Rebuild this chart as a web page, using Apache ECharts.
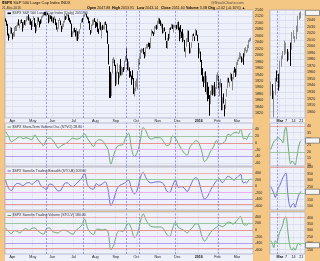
<!DOCTYPE html>
<html>
<head>
<meta charset="utf-8">
<script src="https://cdn.jsdelivr.net/npm/echarts@6.0.0/dist/echarts.min.js"></script>
<style>
html,body{margin:0;padding:0;background:#f4c784;overflow:hidden}
#chart{width:320px;height:261px}
</style>
</head>
<body>
<div id="chart"></div>
<script>
// ---------------- data ----------------
const tradingDays = [
  ['2015-03',[23,24,25,26,27,30,31]],
  ['2015-04',[1,2,6,7,8,9,10,13,14,15,16,17,20,21,22,23,24,27,28,29,30]],
  ['2015-05',[1,4,5,6,7,8,11,12,13,14,15,18,19,20,21,22,26,27,28,29]],
  ['2015-06',[1,2,3,4,5,8,9,10,11,12,15,16,17,18,19,22,23,24,25,26,29,30]],
  ['2015-07',[1,2,6,7,8,9,10,13,14,15,16,17,20,21,22,23,24,27,28,29,30,31]],
  ['2015-08',[3,4,5,6,7,10,11,12,13,14,17,18,19,20,21,24,25,26,27,28,31]],
  ['2015-09',[1,2,3,4,8,9,10,11,14,15,16,17,18,21,22,23,24,25,28,29,30]],
  ['2015-10',[1,2,5,6,7,8,9,12,13,14,15,16,19,20,21,22,23,26,27,28,29,30]],
  ['2015-11',[2,3,4,5,6,9,10,11,12,13,16,17,18,19,20,23,24,25,27,30]],
  ['2015-12',[1,2,3,4,7,8,9,10,11,14,15,16,17,18,21,22,23,24,28,29,30,31]],
  ['2016-01',[4,5,6,7,8,11,12,13,14,15,19,20,21,22,25,26,27,28,29]],
  ['2016-02',[1,2,3,4,5,8,9,10,11,12,16,17,18,19,22,23,24,25,26,29]],
  ['2016-03',[1,2,3,4,7,8,9,10,11,14,15,16,17,18,21]]
];

const opens = [
  2107,2104,2092,2060,2056,2065,2084,
  2067,2061,2064,2081,2077,2081,2091,2102,2092,2097,2105,2102,2084,2102,2098,2107,2113,2120,2108,2112,2105,
  2088,2111,2113,2091,2080,2093,2116,2103,2100,2100,2123,2122,2129,2128,2126,2130,2125,2105,2123,2121,
  2108,2110,2111,2112,2096,2093,2079,2082,2106,2107,2091,2084,2097,2102,2121,2112,2123,2124,2109,2102,2098,2061,
  2068,2078,2073,2069,2074,2049,2066,2081,2100,2109,2112,2124,2127,2126,2118,2114,2103,2078,2070,2093,2107,2111,
  2104,2097,2096,2100,2082,2081,2102,2081,2086,2083,2089,2102,2095,2076,2034,1966,1898,1873,1943,1986,1986,
  1970,1917,1951,1947,1928,1972,1941,1951,1963,1955,1979,1995,1989,1961,1962,1943,1935,1936,1929,1882,1888,
  1919,1921,1954,1983,1984,1994,2013,2015,2015,2003,1996,2025,2032,2033,2033,2022,2059,2075,2069,2066,2088,2090,
  2081,2102,2110,2101,2098,2097,2077,2084,2072,2044,2023,2054,2051,2084,2083,2089,2084,2089,2089,2091,
  2083,2101,2081,2051,2091,2073,2061,2048,2047,2013,2026,2047,2074,2040,2011,2024,2043,2064,2058,2060,2077,2060,
  2038,2014,2011,1985,1946,1927,1928,1941,1892,1916,1886,1876,1861,1877,1906,1878,1903,1886,1895,
  1936,1935,1907,1911,1913,1873,1848,1858,1840,1833,1871,1898,1927,1916,1924,1942,1917,1931,1954,1947,
  1937,1976,1986,1994,1997,1996,1981,1991,1995,2018,2015,2015,2026,2041,2047.88
];
const closes = [
  2104,2092,2061,2056,2061,2086,2068,
  2060,2067,2081,2076,2082,2091,2102,2092,2096,2107,2105,2081,2100,2097,2108,2113,2118,2109,2115,2107,2086,
  2108,2114,2089,2080,2088,2116,2105,2099,2098,2121,2123,2129,2128,2126,2131,2126,2104,2123,2121,2107,
  2112,2110,2114,2096,2093,2079,2080,2105,2109,2094,2084,2096,2100,2121,2110,2123,2124,2109,2102,2101,2058,2063,
  2077,2077,2069,2081,2047,2051,2077,2100,2109,2107,2124,2127,2128,2119,2114,2102,2080,2068,2093,2109,2109,2104,
  2098,2093,2100,2084,2078,2104,2084,2086,2083,2092,2102,2097,2080,2036,1971,1893,1868,1941,1988,1989,1972,
  1914,1949,1951,1921,1969,1942,1952,1961,1953,1978,1995,1990,1958,1967,1943,1939,1932,1931,1882,1884,1920,
  1924,1951,1987,1980,1996,2013,2015,2017,2004,1994,2024,2033,2034,2031,2019,2053,2075,2071,2066,2090,2089,2079,
  2104,2110,2102,2100,2099,2079,2082,2075,2046,2023,2053,2050,2084,2081,2089,2087,2089,2089,2090,2080,
  2103,2080,2050,2092,2077,2064,2048,2052,2012,2022,2043,2073,2042,2006,2021,2039,2064,2061,2057,2078,2063,2044,
  2013,2017,1990,1943,1922,1924,1939,1890,1922,1880,1881,1859,1869,1907,1877,1904,1883,1893,1940,
  1939,1903,1913,1915,1880,1853,1852,1852,1829,1865,1896,1927,1918,1918,1946,1921,1930,1952,1948,1932,
  1978,1986,1993,2000,2002,1979,1989,1990,2022,2020,2016,2027,2041,2049.58,2051.60
];
const lows = [
  2104,2091,2061,2045,2053,2065,2067,
  2049,2057,2057,2076,2075,2075,2089,2092,2083,2097,2100,2073,2084,2094,2091,2104,2110,2107,2094,2094,2078,
  2088,2109,2088,2068,2074,2093,2104,2086,2096,2100,2116,2120,2124,2123,2122,2125,2099,2103,2112,2104,
  2101,2099,2109,2093,2086,2079,2072,2082,2106,2093,2072,2080,2088,2101,2109,2112,2120,2108,2102,2097,2056,2056,
  2067,2071,2058,2045,2044,2049,2066,2081,2100,2102,2112,2119,2124,2117,2111,2099,2078,2064,2069,2091,2094,2103,
  2084,2088,2096,2072,2066,2081,2077,2052,2078,2080,2079,2094,2070,2035,1971,1867,1867,1873,1943,1975,1966,
  1904,1909,1944,1909,1928,1937,1937,1939,1948,1954,1979,1986,1953,1951,1930,1933,1908,1925,1879,1872,1888,
  1900,1893,1954,1971,1976,1988,2007,2011,2003,1990,1996,2021,2020,2026,2018,2022,2059,2067,2059,2066,2082,2079,
  2081,2097,2097,2091,2083,2067,2069,2074,2046,2022,2019,2045,2051,2078,2083,2081,2070,2086,2084,2080,
  2083,2077,2043,2051,2071,2053,2040,2044,2011,1993,2026,2040,2041,2005,2006,2023,2043,2059,2044,2060,2061,2043,
  1990,2005,1979,1938,1918,1901,1914,1886,1878,1857,1864,1812,1848,1877,1875,1878,1872,1873,1895,
  1921,1897,1872,1900,1872,1829,1829,1850,1810,1833,1871,1898,1915,1902,1924,1919,1891,1925,1946,1932,
  1937,1969,1981,1987,1989,1977,1979,1970,1995,2012,2006,2011,2022,2041,2043.14
];
const highs = [
  2114,2107,2097,2067,2063,2088,2085,
  2068,2072,2087,2089,2087,2093,2102,2111,2098,2109,2111,2102,2104,2109,2109,2120,2121,2126,2117,2113,2105,
  2109,2121,2115,2099,2093,2118,2117,2106,2111,2121,2124,2131,2134,2135,2132,2131,2126,2126,2123,2122,
  2118,2117,2122,2113,2101,2094,2086,2109,2115,2107,2091,2098,2106,2126,2121,2129,2127,2126,2116,2108,2098,2074,
  2083,2085,2078,2084,2074,2074,2081,2100,2111,2115,2124,2127,2132,2128,2120,2117,2106,2078,2095,2110,2111,2115,
  2105,2103,2113,2100,2082,2106,2102,2089,2094,2092,2103,2104,2096,2076,2034,1966,1948,1943,1989,1994,1986,
  1970,1949,1975,1947,1970,1988,1965,1961,1963,1983,1997,2021,1989,1980,1962,1950,1937,1953,1929,1899,1920,
  1927,1951,1989,1987,1999,2017,2021,2019,2022,2010,2024,2034,2035,2039,2038,2055,2080,2075,2071,2090,2092,2094,
  2106,2116,2114,2108,2101,2097,2084,2086,2072,2044,2054,2066,2084,2086,2097,2095,2094,2094,2094,2094,
  2103,2104,2086,2093,2093,2073,2081,2067,2047,2023,2053,2077,2076,2040,2023,2040,2065,2067,2058,2082,2077,2063,
  2038,2022,2011,1985,1960,1934,1947,1950,1935,1916,1902,1876,1889,1908,1906,1906,1917,1902,1940,
  1947,1935,1918,1927,1913,1873,1869,1881,1846,1864,1896,1930,1930,1918,1946,1942,1932,1952,1963,1958,
  1978,1986,1993,2009,2006,1996,1992,2006,2022,2025,2016,2032,2047,2052,2053.91
];
const lastVolume = '3.3B';

// oscillators: read every 3rd trading day up to 17-Feb-2016, then daily from 22-Feb-2016
const oscStep = 3;
const recentFrom = '2016-02-22';
const stvoEarly = [33,20,3,8,14,18,12,15,12,9,23,11,0,-8,10,14,9,-3,-15,-9,-4,0,8,14,11,12,17,26,12,0,-11,4,9,7,-5,-20,-62,-35,-12,-7,-6,15,28,-15,-40,-28,5,45,34,14,11,15,15,14,3,-8,-5,20,14,-2,-17,-30,-36,-12,-2,6,0,-25,-55,-45,-25,-12,6,-3,-2,5,25];
const stvoRecent = [22,25,28,29,30,31,30,29,27,36,39,30,18,11,13,12,10,15,22,27,28.8];
const stobEarly = [180,-60,-140,0,80,60,10,80,110,50,120,180,20,-50,-110,60,40,-60,-150,-120,60,100,30,-20,60,140,240,380,40,-70,-100,70,20,60,130,-110,-600,-400,-100,20,60,110,180,-80,-240,-120,250,420,250,120,100,120,130,120,60,-150,-200,0,180,-40,-20,-60,-170,-20,180,260,150,-200,-400,-320,-130,20,160,220,100,200,300];
const stobRecent = [250,225,200,165,200,240,260,290,320,340,355,220,120,90,110,120,90,130,170,200,209];
const stovEarly = [60,-40,-110,-20,-40,-90,0,40,-10,50,60,-20,-90,-130,40,60,-40,-80,-90,-20,-10,-30,-90,-130,-20,50,140,330,60,-80,-140,20,20,0,20,-60,-600,-450,-120,-20,-50,80,200,40,-230,-130,230,490,300,160,100,90,90,90,30,-130,-200,30,230,80,30,-20,-90,0,90,190,150,-180,-340,-220,-80,20,80,140,100,150,240];
const stovRecent = [220,200,165,220,205,255,290,315,350,400,405,320,215,160,145,165,145,170,200,190,184];

const eventDays = ['2015-05-21','2015-07-16','2015-09-17','2015-10-06','2015-11-27','2016-02-02'];
const miniEventDays = ['2016-02-26'];
const stvoLevels = [[40,'#f2a2a2'],[20,'#8cc08c'],[0,'#ee8080'],[-20,'#eea0ee'],[-40,'#a88cf0']];
const swenLevels = [[400,'#f2a2a2'],[200,'#8cc08c'],[0,'#ee8080'],[-200,'#eea0ee'],[-400,'#a88cf0'],[-550,'#ee8080']];
const monthNames = ['Jan','Feb','Mar','Apr','May','Jun','Jul','Aug','Sep','Oct','Nov','Dec'];
const miniTicks = ['2016-03-01','2016-03-07','2016-03-14','2016-03-21'];

// ---------------- build ----------------
const dates = [];
tradingDays.forEach(([m, ds]) => ds.forEach(d => dates.push(m + '-' + String(d).padStart(2, '0'))));
const cats = dates.concat(['~1', '~2']);
const L = dates.length - 1;
const recentStart = dates.indexOf(recentFrom);
const miniCats = dates.slice(recentStart).concat(['~m1', '~m2']);
const candles = dates.map((d, i) => [opens[i], closes[i], lows[i], highs[i]]);

function buildOsc(early, recent) {
  const arr = new Array(cats.length).fill(null);
  early.forEach((v, k) => { arr[k * oscStep] = v; });
  recent.forEach((v, k) => { arr[recentStart + k] = v; });
  return arr;
}
const isMonthStart = (i) => i > 0 && i < dates.length && dates[i].slice(0, 7) !== dates[i - 1].slice(0, 7);

const FONT = 'Liberation Sans, Arial, sans-serif';
const FS = 3.7;
const gridDefs = [
  {left: 5, top: 10, width: 248, height: 108},
  {left: 5, top: 123, width: 248, height: 43},
  {left: 5, top: 167, width: 248, height: 43},
  {left: 5, top: 212, width: 248, height: 42},
  {left: 270, top: 10, width: 35, height: 108},
  {left: 270, top: 123, width: 35, height: 43},
  {left: 270, top: 167, width: 35, height: 43},
  {left: 270, top: 212, width: 35, height: 42}
];

function mainX(gi, showLabel) {
  return {
    type: 'category', gridIndex: gi, data: cats, boundaryGap: true,
    axisLine: {show: false}, axisTick: {show: false},
    axisLabel: {
      show: showLabel, interval: (i) => isMonthStart(i), margin: 1.2,
      fontSize: FS, color: '#222', fontFamily: FONT,
      formatter: (v) => { const m = +v.slice(5, 7); return m === 1 ? '{b|' + v.slice(0, 4) + '}' : monthNames[m - 1]; },
      rich: {b: {fontWeight: 'bold', fontSize: FS, color: '#111', fontFamily: FONT}}
    },
    splitLine: {show: true, interval: (i) => isMonthStart(i), lineStyle: {color: '#c9cde2', width: 0.6, type: [1, 1]}}
  };
}
function miniX(gi, showLabel) {
  return {
    type: 'category', gridIndex: gi, data: miniCats, boundaryGap: true,
    axisLine: {show: false}, axisTick: {show: false},
    axisLabel: {
      show: showLabel, interval: (i, v) => miniTicks.includes(v), margin: 1.2,
      fontSize: FS, color: '#222', fontFamily: FONT,
      formatter: (v) => v === miniTicks[0] ? '{b|Mar}' : String(+v.slice(8)),
      rich: {b: {fontWeight: 'bold', fontSize: FS, color: '#111', fontFamily: FONT}}
    },
    splitLine: {show: true, interval: (i, v) => miniTicks.includes(v), lineStyle: {color: '#c9cde2', width: 0.6, type: [1, 1]}}
  };
}
function yAx(gi, min, max, step, showMax) {
  return {
    type: 'value', gridIndex: gi, position: 'right', min, max, minInterval: step, maxInterval: step,
    axisLine: {show: false}, axisTick: {show: false},
    axisLabel: {fontSize: FS, color: '#222', margin: 2, fontFamily: FONT, showMinLabel: false, showMaxLabel: !!showMax,
      formatter: (v) => String(v)},
    splitLine: {show: true, lineStyle: {color: '#d2d6e8', width: 0.6}}
  };
}
function levelLines(levels, lo, hi) {
  return levels.filter(l => l[0] >= lo && l[0] <= hi)
    .map(([v, c]) => ({yAxis: v, lineStyle: {color: c, width: 0.8, type: 'solid'}}));
}
function eventLines(days) {
  return days.map(d => ({xAxis: d, lineStyle: {color: '#6e6ef0', width: 0.7, type: [2, 1.5]}}));
}
function mk(data) {
  return {silent: true, symbol: ['none', 'none'], label: {show: false}, animation: false, data};
}
const candleStyle = {color: '#8a8a8a', color0: '#000000', borderColor: '#8a8a8a', borderColor0: '#000000', borderWidth: 1};
function oscSeries(xi, data, color, markData) {
  return {type: 'line', xAxisIndex: xi, yAxisIndex: xi, data, connectNulls: true, smooth: 0.35,
    symbol: 'none', lineStyle: {color, width: 0.8}, markLine: mk(markData), z: 3};
}

const yRanges = [[1805, 2140, 20, true], [-68, 58, 20], [-738, 585, 200], [-730, 545, 200],
                 [1890, 2056, 10], [9.2, 42.3, 5], [69, 400, 50, true], [115, 445, 50]];

const option = {
  animation: false,
  backgroundColor: '#f4c784',
  grid: gridDefs.map(g => Object.assign({show: true, backgroundColor: '#eef0fa', borderColor: '#9c9cb2', borderWidth: 0.6}, g)),
  xAxis: [mainX(0, true), mainX(1, false), mainX(2, false), mainX(3, true),
          miniX(4, true), miniX(5, false), miniX(6, false), miniX(7, true)],
  yAxis: yRanges.map((r, i) => yAx(i, r[0], r[1], r[2], r[3])),
  series: [
    {type: 'candlestick', xAxisIndex: 0, yAxisIndex: 0, data: candles, barWidth: 1, itemStyle: candleStyle,
     markLine: mk(eventLines(eventDays)), z: 3},
    oscSeries(1, buildOsc(stvoEarly, stvoRecent), '#4d9a4d', levelLines(stvoLevels, -68, 58).concat(eventLines(eventDays))),
    oscSeries(2, buildOsc(stobEarly, stobRecent), '#5252c8', levelLines(swenLevels, -738, 585).concat(eventLines(eventDays))),
    oscSeries(3, buildOsc(stovEarly, stovRecent), '#4d9a4d', levelLines(swenLevels, -730, 545).concat(eventLines(eventDays))),
    {type: 'candlestick', xAxisIndex: 4, yAxisIndex: 4, data: candles.slice(recentStart), barWidth: 1.2, itemStyle: candleStyle,
     markLine: mk(eventLines(miniEventDays)), z: 3},
    oscSeries(5, stvoRecent, '#4d9a4d', levelLines(stvoLevels, 9.2, 42.3).concat(eventLines(miniEventDays))),
    oscSeries(6, stobRecent, '#5252c8', levelLines(swenLevels, 69, 400).concat(eventLines(miniEventDays))),
    oscSeries(7, stovRecent, '#4d9a4d', levelLines(swenLevels, 115, 445).concat(eventLines(miniEventDays)))
  ]
};

const chart = echarts.init(document.getElementById('chart'), null, {renderer: 'canvas'});
chart.setOption(option);

// ---------------- texts ----------------
function txt(x, y, text, size, extra) {
  return {type: 'text', x, y, silent: true, z: 50,
    style: Object.assign({text, fill: '#111', fontSize: size, fontFamily: FONT, verticalAlign: 'middle', align: 'left',
      rich: {b: {fontWeight: 'bold', fontSize: size, fontFamily: FONT, fill: '#000'}}}, extra || {})};
}
function legend(y, color, text, thick) {
  return [
    {type: 'line', silent: true, z: 50, shape: {x1: 7.5, y1: y, x2: 11, y2: y}, style: {stroke: color, lineWidth: thick ? 1.6 : 0.9}},
    txt(12.5, y, text, 3.5, {fill: '#333'})
  ];
}
const f2 = (v) => v.toFixed(2);
const chg = closes[L] - closes[L - 1];
const d = dates[L];
const dateText = (+d.slice(8)) + '-' + monthNames[+d.slice(5, 7) - 1] + '-' + d.slice(0, 4);

const graphics = [
  {type: 'rect', silent: true, z: -10, shape: {x: 5, y: 118, width: 248, height: 5}, style: {fill: '#eef0fa'}},
  {type: 'rect', silent: true, z: -10, shape: {x: 270, y: 118, width: 35, height: 5}, style: {fill: '#eef0fa'}},
  {type: 'rect', silent: true, z: -10, shape: {x: 5, y: 254, width: 248, height: 7}, style: {fill: '#eef0fa'}},
  {type: 'rect', silent: true, z: -10, shape: {x: 270, y: 254, width: 35, height: 7}, style: {fill: '#eef0fa'}},
  txt(2, 3.2, '{b|$SPX} S&P 500 Large Cap Index INDX', 4),
  txt(211, 3.2, '@StockCharts.com', 3.8, {fill: '#444'}),
  txt(2, 7.6, dateText, 3.3, {fill: '#333'}),
  txt(87, 7.6, '{b|Open} ' + f2(opens[L]), 3.6),
  txt(112, 7.6, '{b|High} ' + f2(highs[L]), 3.6),
  txt(137, 7.6, '{b|Low} ' + f2(lows[L]), 3.6),
  txt(161, 7.6, '{b|Close} ' + f2(closes[L]), 3.6),
  txt(186, 7.6, '{b|Volume} ' + lastVolume, 3.6),
  txt(208, 7.6, '{b|Chg} ' + (chg >= 0 ? '+' : '') + f2(chg) + ' (' + (chg >= 0 ? '+' : '') + f2(chg / closes[L - 1] * 100) + '%) \u25B2', 3.6),
  ...legend(13.3, '#000', '$SPX S&P 500 Large Cap Index (Daily) ' + f2(closes[L]), true),
  ...legend(127, '#4d9a4d', '$SPX Short-Term Volume Osc (STVO) ' + f2(stvoRecent[stvoRecent.length - 1])),
  ...legend(171, '#5252c8', '$SPX Swenlin Trading Breadth (STO-B) ' + f2(stobRecent[stobRecent.length - 1])),
  ...legend(215.5, '#4d9a4d', '$SPX Swenlin Trading Volume (STO-V) ' + f2(stovRecent[stovRecent.length - 1]))
];
// last-value boxes at right of the mini panels
[[4, closes[L]], [5, stvoRecent[stvoRecent.length - 1]], [6, stobRecent[stobRecent.length - 1]], [7, stovRecent[stovRecent.length - 1]]]
  .forEach(([ai, v]) => {
    const y = chart.convertToPixel({yAxisIndex: ai}, v);
    graphics.push({type: 'rect', silent: true, z: 60, shape: {x: 305.5, y: y - 2.6, width: 14, height: 5.2},
      style: {fill: '#f6f6f6', stroke: '#555', lineWidth: 0.6}});
    graphics.push(txt(306.5, y, f2(v), 3.5, {fill: '#000', z: 61}));
  });
chart.setOption({graphic: graphics});
</script>
</body>
</html>
